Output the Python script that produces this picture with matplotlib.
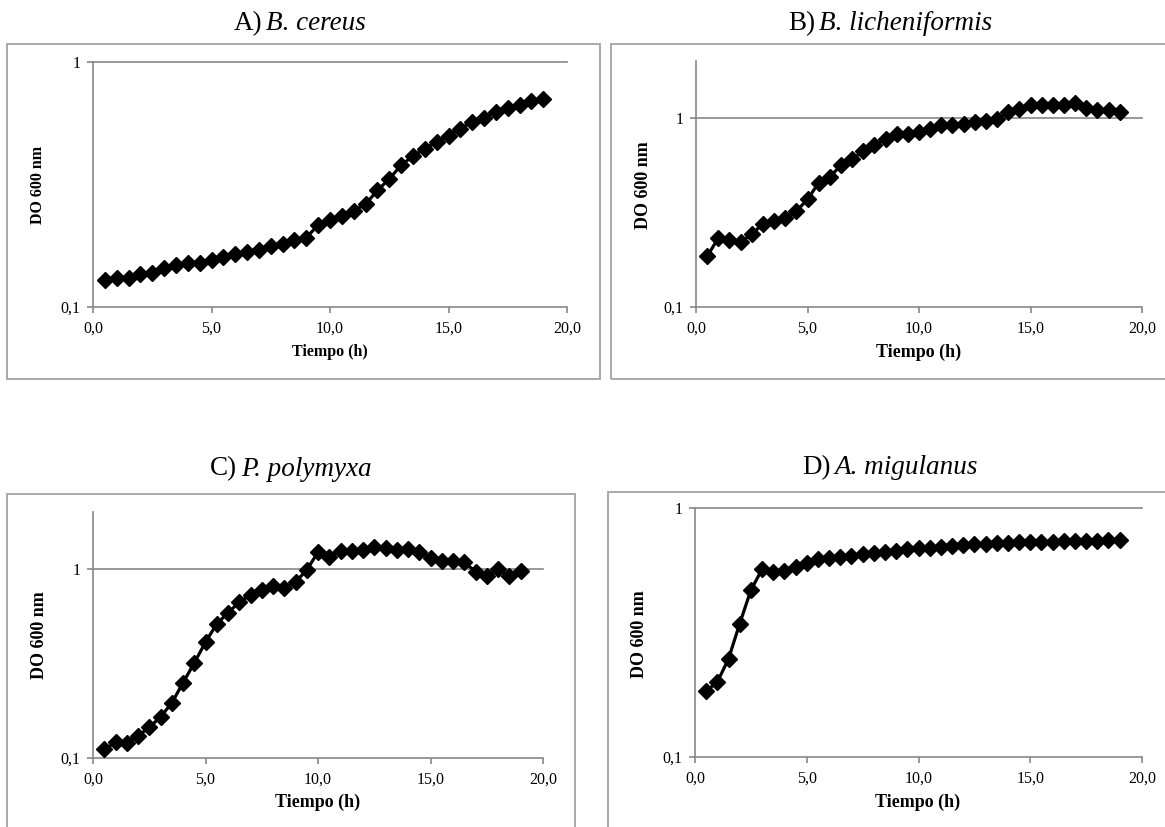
import matplotlib
matplotlib.use("Agg")
import matplotlib.pyplot as plt
from matplotlib.patches import Rectangle
from matplotlib.ticker import FixedLocator, FuncFormatter, NullLocator

plt.rcParams['font.family'] = ['Liberation Serif', 'DejaVu Serif']

# Tiempo (h)
tiempo = [0.5, 1.0, 1.5, 2.0, 2.5, 3.0, 3.5, 4.0, 4.5, 5.0,
          5.5, 6.0, 6.5, 7.0, 7.5, 8.0, 8.5, 9.0, 9.5, 10.0,
          10.5, 11.0, 11.5, 12.0, 12.5, 13.0, 13.5, 14.0, 14.5, 15.0,
          15.5, 16.0, 16.5, 17.0, 17.5, 18.0, 18.5, 19.0]

# DO 600 nm
do_cereus = [0.129, 0.131, 0.131, 0.137, 0.138, 0.144, 0.148, 0.151, 0.151, 0.155,
             0.160, 0.164, 0.168, 0.171, 0.177, 0.180, 0.188, 0.192, 0.216, 0.227,
             0.235, 0.247, 0.263, 0.299, 0.333, 0.379, 0.413, 0.442, 0.472, 0.500,
             0.535, 0.570, 0.593, 0.626, 0.646, 0.670, 0.694, 0.705]
do_licheniformis = [0.185, 0.232, 0.227, 0.221, 0.242, 0.276, 0.285, 0.296, 0.321, 0.371,
                    0.453, 0.487, 0.562, 0.607, 0.666, 0.717, 0.778, 0.820, 0.826, 0.843,
                    0.871, 0.915, 0.922, 0.933, 0.956, 0.964, 0.984, 1.076, 1.120, 1.177,
                    1.177, 1.177, 1.167, 1.200, 1.129, 1.099, 1.099, 1.076]
do_polymyxa = [0.111, 0.121, 0.120, 0.131, 0.145, 0.165, 0.195, 0.250, 0.318, 0.410,
               0.512, 0.586, 0.667, 0.729, 0.769, 0.810, 0.794, 0.851, 0.988, 1.225,
               1.162, 1.250, 1.250, 1.260, 1.310, 1.290, 1.260, 1.275, 1.235, 1.138,
               1.106, 1.106, 1.084, 0.968, 0.914, 1.000, 0.914, 0.980]
do_migulanus = [0.184, 0.200, 0.248, 0.343, 0.468, 0.567, 0.552, 0.560, 0.578, 0.600,
                0.622, 0.628, 0.634, 0.644, 0.652, 0.658, 0.664, 0.672, 0.683, 0.689,
                0.693, 0.700, 0.706, 0.711, 0.716, 0.720, 0.722, 0.724, 0.727, 0.729,
                0.731, 0.733, 0.735, 0.737, 0.740, 0.740, 0.742, 0.742]

W, H = 1165, 827
fig = plt.figure(figsize=(W / 100, H / 100), dpi=100)
renderer = fig.canvas.get_renderer()

AX_GRAY = '#878787'
BOX_GRAY = '#a3a3a3'
TITLE_SIZE = 19.5


def px_rect(left, top, right, bottom):
    return [left / W, 1 - bottom / H, (right - left) / W, (bottom - top) / H]


def fmt_x(v, pos):
    return f"{v:.1f}".replace('.', ',')


def fmt_y(v, pos):
    return '1' if v >= 1 else f"{v:g}".replace('.', ',')


def two_part_title(cx, cy, letter, species):
    # "A)" upright, species name in italics, centred together on (cx, cy) px
    y = 1 - cy / H
    t1 = fig.text(0, y, letter, fontsize=TITLE_SIZE, ha='left', va='center')
    t2 = fig.text(0, y, species, fontsize=TITLE_SIZE, style='italic',
                  ha='left', va='center')
    w1 = t1.get_window_extent(renderer).width
    w2 = t2.get_window_extent(renderer).width
    gap = TITLE_SIZE * 0.2
    x0 = cx - (w1 + gap + w2) / 2
    t1.set_x(x0 / W)
    t2.set_x((x0 + w1 + gap) / W)


panels = [
    # letter, species, data, axes px (l, t, r, b), ymax, box px,
    # title xy, ylabel xy, xlabel xy, label size
    ("A)", "B. cereus", do_cereus, (93, 62, 567, 307), 1.0,
     (7, 44, 600, 379), (300, 24), (38, 185), (330, 352), 11.5),
    ("B)", "B. licheniformis", do_licheniformis, (696, 61, 1142, 307), 2.0,
     (611, 44, 1170, 379), (890, 24), (643, 185), (919, 352), 13),
    ("C)", "P. polymyxa", do_polymyxa, (93, 512, 543, 758), 2.0,
     (7, 494, 575, 835), (291, 469), (40, 635), (318, 802), 13),
    ("D)", "A. migulanus", do_migulanus, (695, 508, 1142, 757), 1.0,
     (608, 492, 1172, 835), (890, 468), (640, 634), (918, 802), 13),
]

for letter, species, values, axpx, ymax, boxpx, tpos, ylpos, xlpos, lsize in panels:
    bl, bt, br, bb = boxpx
    fig.patches.append(Rectangle((bl / W, 1 - bb / H), (br - bl) / W, (bb - bt) / H,
                                 transform=fig.transFigure, fill=False,
                                 edgecolor=BOX_GRAY, linewidth=1.3))

    ax = fig.add_axes(px_rect(*axpx))
    ax.set_yscale('log')
    ax.set_xlim(0, 20)
    ax.set_ylim(0.1, ymax)
    ax.yaxis.set_major_locator(FixedLocator([0.1, 1]))
    ax.yaxis.set_minor_locator(NullLocator())
    ax.yaxis.set_major_formatter(FuncFormatter(fmt_y))
    ax.xaxis.set_major_locator(FixedLocator([0, 5, 10, 15, 20]))
    ax.xaxis.set_major_formatter(FuncFormatter(fmt_x))

    for side in ('top', 'right'):
        ax.spines[side].set_visible(False)
    for side in ('left', 'bottom'):
        ax.spines[side].set_color(AX_GRAY)
        ax.spines[side].set_linewidth(1.2)
    ax.tick_params(axis='both', direction='out', length=4, width=1.2,
                   color=AX_GRAY, labelsize=11.5, labelcolor='black')
    ax.tick_params(axis='x', pad=6)
    ax.tick_params(axis='y', pad=5)
    ax.axhline(1, color=AX_GRAY, linewidth=1.2, zorder=1, clip_on=False)

    ax.plot(tiempo, values, color='black', linewidth=2.3, marker='D',
            markersize=8.5, markerfacecolor='black', markeredgecolor='black',
            zorder=3, clip_on=False)

    two_part_title(tpos[0], tpos[1], letter, species)
    fig.text(ylpos[0] / W, 1 - ylpos[1] / H, 'DO 600 nm', fontsize=lsize,
             fontweight='bold', rotation=90, ha='center', va='center')
    fig.text(xlpos[0] / W, 1 - xlpos[1] / H, 'Tiempo (h)', fontsize=lsize,
             fontweight='bold', ha='center', va='center')

fig.savefig('out.png', dpi=100)
